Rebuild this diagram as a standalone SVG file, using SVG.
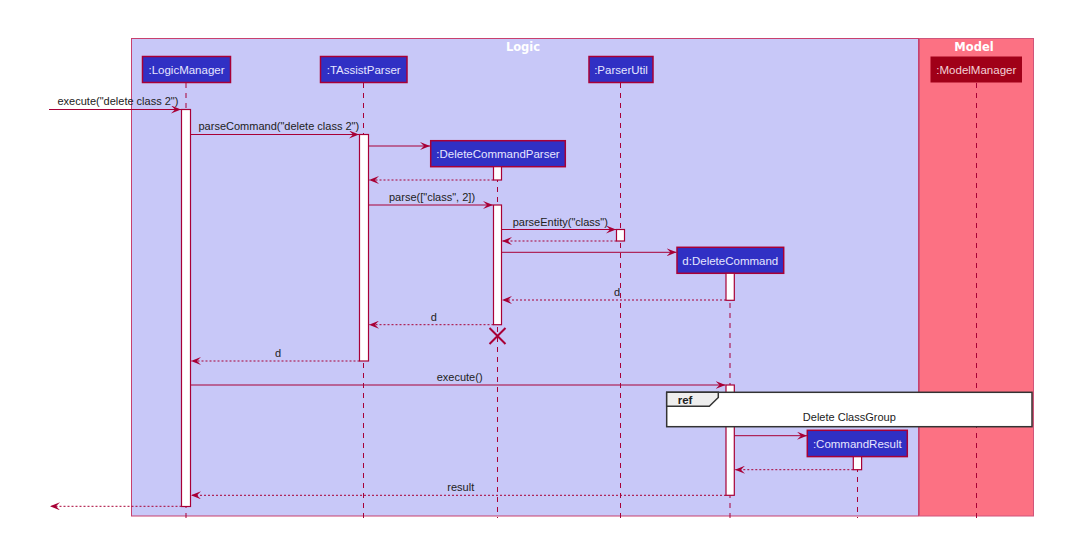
<svg xmlns="http://www.w3.org/2000/svg" width="1070" height="534" viewBox="0 0 1070 534">
<defs>
<style>
.msg{font-family:"Liberation Sans",Arial,sans-serif;font-size:11px;fill:#222}
.ptxt{font-family:"Liberation Sans",Arial,sans-serif;font-size:11.5px;fill:#E6E6FF;text-anchor:middle}
.btitle{font-family:"DejaVu Sans","Liberation Sans",sans-serif;font-size:11.5px;font-weight:bold;fill:#FFFFFF;text-anchor:middle}
.part{fill:#3030C4;stroke:#A80036;stroke-width:1.5}
.life{stroke:#A80036;stroke-width:1;stroke-dasharray:5,5;fill:none}
.act{fill:#FFFFFF;stroke:#A80036;stroke-width:1.2}
.sync{stroke:#A80036;stroke-width:1;fill:none}
.ret{stroke:#A80036;stroke-width:1;stroke-dasharray:2,2;fill:none}
</style>
<marker id="ah" viewBox="0 0 10 8" refX="10" refY="4" markerWidth="10" markerHeight="8" markerUnits="userSpaceOnUse" orient="auto">
<polygon points="0,0 10,4 0,8 4,4" fill="#A80036"/>
</marker>
</defs>
<rect x="0" y="0" width="1070" height="534" fill="#FFFFFF"/>

<g id="boxes">
<rect x="131.5" y="38.5" width="787" height="477.5" fill="#C8C8F8" stroke="#C8406E" stroke-width="1"/>
<text x="523" y="51" class="btitle">Logic</text>
<rect x="919.5" y="38.5" width="114" height="477.5" fill="#FC7183" stroke="#D0557A" stroke-width="1"/>
<text x="974" y="51" class="btitle">Model</text>
</g>

<g id="lifelines">
<line class="life" x1="186" y1="83" x2="186" y2="518"/>
<line class="life" x1="363.5" y1="83" x2="363.5" y2="518"/>
<line class="life" x1="620.5" y1="83" x2="620.5" y2="518"/>
<line class="life" x1="976.5" y1="83" x2="976.5" y2="518"/>
<line class="life" x1="497.5" y1="167" x2="497.5" y2="518"/>
<line class="life" x1="730" y1="273" x2="730" y2="518"/>
<line class="life" x1="857.5" y1="457" x2="857.5" y2="518"/>
</g>

<g id="LogicManager">
<rect class="part" x="142.5" y="56.5" width="88" height="26"/>
<text class="ptxt" x="186.5" y="73.8">:LogicManager</text>
<rect class="act" x="181.5" y="109.5" width="9" height="397"/>
</g>
<g id="TAssistParser">
<rect class="part" x="320.5" y="56.5" width="86.5" height="26"/>
<text class="ptxt" x="363.7" y="73.8">:TAssistParser</text>
<rect class="act" x="359.5" y="134.5" width="9" height="226.5"/>
</g>
<g id="ParserUtil">
<rect class="part" x="589" y="56.5" width="64" height="26"/>
<text class="ptxt" x="621" y="73.8">:ParserUtil</text>
<rect class="act" x="616.5" y="229.5" width="8" height="11.5"/>
</g>
<g id="ModelManager">
<rect x="930.5" y="56.5" width="91.5" height="26" fill="#A00018"/>
<text class="ptxt" x="976.3" y="73.8" style="fill:#F4D0D6">:ModelManager</text>
</g>
<g id="DeleteCommandParser">
<rect class="part" x="430.7" y="140.7" width="134.6" height="26"/>
<text class="ptxt" x="498" y="158">:DeleteCommandParser</text>
<rect class="act" x="493.5" y="166.7" width="8" height="13.3"/>
<rect class="act" x="493.5" y="205" width="8" height="119.7"/>
<path d="M489.5,328 L505.5,344 M505.5,328 L489.5,344" stroke="#A80036" stroke-width="2" fill="none"/>
</g>
<g id="DeleteCommand">
<rect class="part" x="677" y="247.3" width="106.7" height="26"/>
<text class="ptxt" x="730.3" y="264.7">d:DeleteCommand</text>
<rect class="act" x="726" y="273.3" width="8.3" height="27"/>
<rect class="act" x="726" y="385" width="8.3" height="110.3"/>
</g>
<g id="CommandResult">
<rect class="part" x="807.3" y="430.3" width="100" height="26.3"/>
<text class="ptxt" x="857.3" y="447.8">:CommandResult</text>
<rect class="act" x="853.3" y="456.7" width="8.3" height="13"/>
</g>

<g id="connectors">
<line class="sync" x1="49" y1="109.5" x2="181" y2="109.5" marker-end="url(#ah)"/>
<text class="msg" x="57.5" y="105">execute("delete class 2")</text>
<line class="sync" x1="190.5" y1="134.5" x2="359" y2="134.5" marker-end="url(#ah)"/>
<text class="msg" x="198.5" y="130">parseCommand("delete class 2")</text>
<line class="sync" x1="368.5" y1="146" x2="430" y2="146" marker-end="url(#ah)"/>
<line class="ret" x1="493.5" y1="180" x2="369" y2="180" marker-end="url(#ah)"/>
<line class="sync" x1="368.5" y1="205" x2="493" y2="205" marker-end="url(#ah)"/>
<text class="msg" x="389" y="201">parse(["class", 2])</text>
<line class="sync" x1="501.5" y1="229.5" x2="616" y2="229.5" marker-end="url(#ah)"/>
<text class="msg" x="512.7" y="225.5">parseEntity("class")</text>
<line class="ret" x1="616.5" y1="241" x2="502" y2="241" marker-end="url(#ah)"/>
<line class="sync" x1="501.5" y1="252.3" x2="676.5" y2="252.3" marker-end="url(#ah)"/>
<line class="ret" x1="726" y1="300" x2="502" y2="300" marker-end="url(#ah)"/>
<text class="msg" x="614" y="296">d</text>
<line class="ret" x1="493.5" y1="324.7" x2="369" y2="324.7" marker-end="url(#ah)"/>
<text class="msg" x="430.7" y="321">d</text>
<line class="ret" x1="359.5" y1="361" x2="191" y2="361" marker-end="url(#ah)"/>
<text class="msg" x="275" y="357">d</text>
<line class="sync" x1="190.5" y1="385" x2="725.5" y2="385" marker-end="url(#ah)"/>
<text class="msg" x="436.7" y="381">execute()</text>
<line class="sync" x1="734.3" y1="435.7" x2="807" y2="435.7" marker-end="url(#ah)"/>
<line class="ret" x1="853.3" y1="469.7" x2="735" y2="469.7" marker-end="url(#ah)"/>
<line class="ret" x1="726" y1="495.3" x2="191" y2="495.3" marker-end="url(#ah)"/>
<text class="msg" x="447.3" y="491">result</text>
<line class="ret" x1="181.5" y1="506.3" x2="50" y2="506.3" marker-end="url(#ah)"/>
</g>

<g id="ref">
<rect x="666.7" y="392.3" width="365.3" height="34.4" fill="#FFFFFF" stroke="#333333" stroke-width="1.5"/>
<path d="M666.7,392.3 L718.3,392.3 L718.3,397.5 L709.3,406.3 L666.7,406.3 Z" fill="#EEEEEE" stroke="#333333" stroke-width="1.5"/>
<text x="677.7" y="404" style="font-family:'Liberation Sans',Arial,sans-serif;font-size:11.5px;font-weight:bold;fill:#222">ref</text>
<text x="849.3" y="421" style="font-family:'Liberation Sans',Arial,sans-serif;font-size:11px;fill:#222;text-anchor:middle">Delete ClassGroup</text>
</g>
</svg>
